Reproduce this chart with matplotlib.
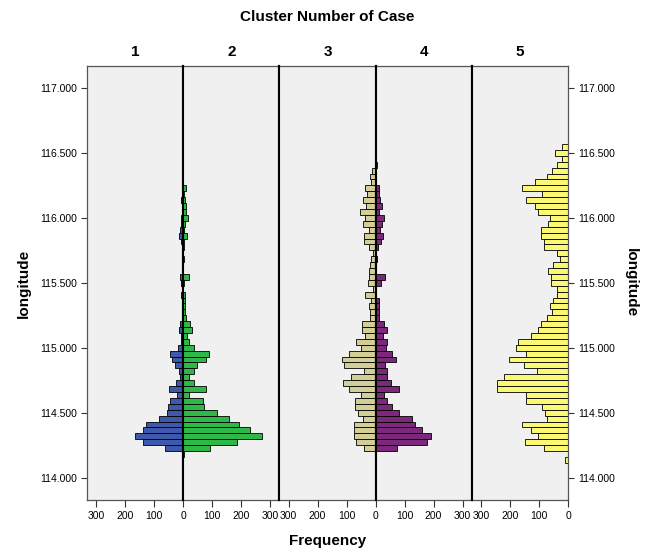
import numpy as np
import matplotlib.pyplot as plt

# --- Data: counts per longitude bin (top bin first) ---
cluster_names = ["1", "2", "3", "4", "5"]
cluster_colors = ["#3E58AC", "#2EB848", "#D3CE97", "#7C287D", "#FBF873"]

cluster1 = [0, 0, 0, 1, 1, 1, 0, 0, 0, 8, 2, 0, 6, 6, 11, 15, 8, 2, 0, 0,
            0, 0, 11, 6, 0, 8, 0, 0, 0, 3, 11, 15, 6, 8, 17, 44, 38, 29, 14, 11,
            25, 48, 23, 44, 54, 55, 83, 130, 138, 167, 138, 63, 2, 0]
cluster2 = [0, 1, 1, 1, 1, 1, 0, 8, 2, 5, 8, 8, 15, 6, 3, 14, 3, 2, 1, 3,
            0, 0, 21, 2, 0, 6, 6, 6, 6, 11, 25, 32, 14, 21, 38, 90, 78, 46, 37, 21,
            37, 80, 21, 67, 71, 118, 159, 193, 230, 270, 187, 94, 3, 0]
cluster3 = [0, 0, 0, 2, 14, 18, 17, 37, 28, 43, 34, 53, 37, 45, 24, 41, 41, 23, 8, 16,
            20, 23, 22, 26, 8, 37, 16, 23, 18, 18, 47, 48, 38, 68, 52, 91, 116, 110, 40, 85,
            111, 93, 51, 70, 72, 59, 45, 76, 76, 74, 68, 41, 0, 0]
cluster4 = [0, 0, 0, 4, 0, 0, 0, 13, 13, 14, 21, 13, 28, 22, 14, 26, 20, 7, 3, 5,
            3, 3, 31, 20, 3, 3, 13, 10, 10, 13, 28, 40, 24, 38, 36, 55, 70, 32, 40, 41,
            53, 80, 28, 38, 56, 82, 125, 137, 160, 191, 177, 75, 3, 0]
cluster5 = [20, 44, 20, 39, 56, 71, 115, 157, 91, 146, 114, 102, 63, 68, 94, 94, 82, 82, 39, 28,
            52, 68, 60, 60, 39, 39, 52, 63, 54, 74, 94, 103, 126, 171, 178, 146, 203, 153, 108, 221,
            244, 244, 146, 146, 88, 80, 74, 160, 126, 102, 148, 83, 0, 11]
counts = [cluster1, cluster2, cluster3, cluster4, cluster5]

BIN_W = 0.5 / 11
TOP_BIN = 116.545
bin_centers = TOP_BIN - BIN_W * np.arange(len(cluster1))

y_ticks = [114.0, 114.5, 115.0, 115.5, 116.0, 116.5, 117.0]
x_ticks = [0, 100, 200, 300]

# --- Layout ---
W, H = 657, 552
fig = plt.figure(figsize=(W / 100, H / 100), dpi=100)
left_px, right_px, top_px, bot_px = 87, 568, 66, 500
pw = (right_px - left_px) / 5
XMAX = pw / 0.29
tick_font = {"family": "Liberation Sans", "size": 7.5}
bold_font = ["Liberation Sans Narrow", "Liberation Sans"]

axes = []
for i in range(5):
    ax = fig.add_axes([(left_px + i * pw) / W, 1 - bot_px / H, pw / W, (bot_px - top_px) / H])
    ax.set_facecolor("#F0F0F0")
    ax.barh(bin_centers, counts[i], height=BIN_W, color=cluster_colors[i],
            edgecolor="black", linewidth=0.6, zorder=2)
    ax.set_ylim(113.827, 117.169)
    # panels 1, 3, 5 grow leftwards
    if i % 2 == 0:
        ax.set_xlim(XMAX, 0)
    else:
        ax.set_xlim(0, XMAX)
    ticks = x_ticks if i in (0, 3, 4) else x_ticks[1:]
    ax.set_xticks(ticks)
    ax.set_xticklabels([str(t) for t in ticks], **tick_font)
    ax.tick_params(axis="x", direction="out", length=5, width=0.8, pad=3, color="#333333")
    ax.set_yticks(y_ticks)
    ax.set_yticklabels(["%.3f" % t for t in y_ticks], **tick_font)
    ax.tick_params(axis="y", direction="out", length=4, width=0.8, color="#333333")
    if i == 0:
        ax.yaxis.set_ticks_position("left")
    elif i == 4:
        ax.yaxis.set_ticks_position("right")
        ax.yaxis.set_label_position("right")
    else:
        ax.tick_params(axis="y", left=False, right=False, labelleft=False, labelright=False)
    for side, sp in ax.spines.items():
        sp.set_color("#555555")
        sp.set_linewidth(0.9)
    if i > 0:
        ax.spines["left"].set_color("black")
        ax.spines["left"].set_linewidth(1.5)
    if i < 4:
        ax.spines["right"].set_color("black")
        ax.spines["right"].set_linewidth(1.5)
    ax.spines["left"].set_zorder(3)
    ax.spines["right"].set_zorder(3)
    ax.set_title(cluster_names[i], family=bold_font, fontweight="bold", fontsize=11, pad=7)
    axes.append(ax)

axes[0].set_ylabel("longitude", family=bold_font, fontweight="bold", fontsize=11, labelpad=6)
axes[4].set_ylabel("longitude", family=bold_font, fontweight="bold", fontsize=11,
                   rotation=-90, labelpad=16)

fig.text((left_px + right_px) / 2 / W, 1 - 17 / H, "Cluster Number of Case",
         family=bold_font, fontweight="bold", fontsize=11, ha="center", va="center")
fig.text((left_px + right_px) / 2 / W, 1 - 541 / H, "Frequency",
         family=bold_font, fontweight="bold", fontsize=11, ha="center", va="center")

fig.savefig("out.png", dpi=100, facecolor="white")
